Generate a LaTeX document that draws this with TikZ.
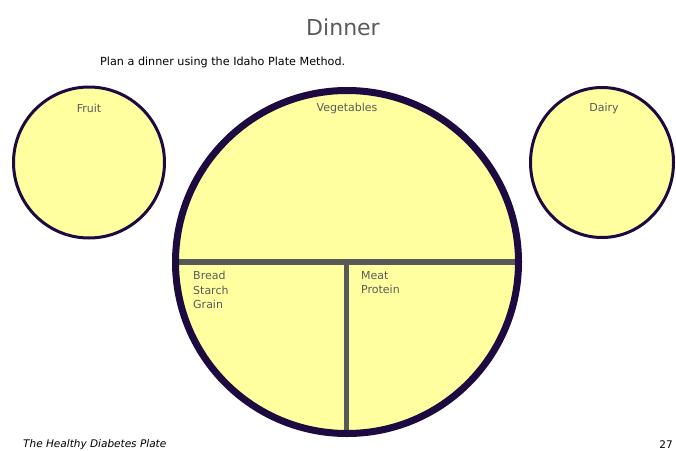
\documentclass[tikz,border=0pt]{standalone}
\usepackage{fontspec}
\setmainfont{DejaVu Sans}
\usetikzlibrary{shapes.geometric}

\definecolor{platefill}{HTML}{FFFFA0}
\definecolor{rim}{HTML}{1C0A40}
\definecolor{divgray}{HTML}{595959}
\definecolor{labelgray}{HTML}{5A5A5A}

\tikzset{
  dish/.style={circle,draw=rim,fill=platefill,line width=3pt,inner sep=0pt},
  bigdish/.style={dish,line width=7pt},
  divider/.style={draw=divgray,line width=5.5pt},
  foodlabel/.style={text=labelgray,font=\fontsize{11}{14.5}\selectfont,inner sep=0pt}
}

\begin{document}
\begin{tikzpicture}[x=1pt,y=-1pt]
\useasboundingbox (0,0) rectangle (676,450);

\node[text=labelgray,font=\fontsize{22}{26}\selectfont] (title) at (343,27) {Dinner};
\node[anchor=west,inner sep=0pt,font=\fontsize{11.2}{13}\selectfont] (intro) at (100,62) {Plan a dinner using the Idaho Plate Method.};

% side dishes
\node[dish,minimum size=151pt] (fruit) at (89,162.5) {};
\node[dish,ellipse,minimum width=143pt,minimum height=150pt] (dairy) at (602,162.5) {};

% the plate: fill, dividers, then the rim on top
\node[circle,fill=platefill,minimum size=343pt,inner sep=0pt] (plate) at (347,262) {};
\coordinate (leftend) at (175,262);
\coordinate (rightend) at (518,262);
\coordinate (midtop) at (346.5,262);
\coordinate (midbottom) at (346.5,433);
\draw[divider] (leftend) -- (rightend);
\draw[divider] (midtop) -- (midbottom);
\node[bigdish,fill=none,minimum size=343pt] (rim) at (347,262) {};

\node[foodlabel] (fruitlbl) at (89,108) {Fruit};
\node[foodlabel] (veglbl) at (347,108) {Vegetables};
\node[foodlabel] (dairylbl) at (604,108) {Dairy};
\node[foodlabel,anchor=north west,align=left] (breadlbl) at (193,271) {Bread\\Starch\\Grain};
\node[foodlabel,anchor=north west,align=left] (meatlbl) at (361,271) {Meat\\Protein};

\node[anchor=west,inner sep=0pt,font=\itshape\fontsize{10.5}{12}\selectfont] (footer) at (23,445) {The Healthy Diabetes Plate};
\node[anchor=east,inner sep=0pt,font=\fontsize{10.5}{12}\selectfont] (pagenum) at (673,445) {27};
\end{tikzpicture}
\end{document}
